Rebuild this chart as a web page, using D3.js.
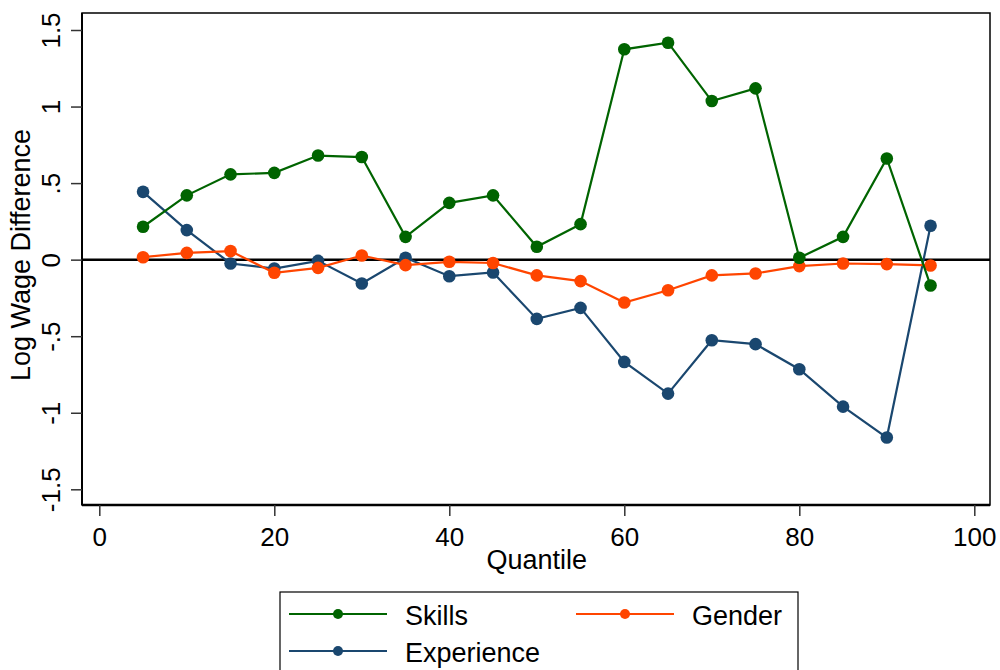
<!DOCTYPE html>
<html>
<head>
<meta charset="utf-8">
<script src="https://cdn.jsdelivr.net/npm/d3@7"></script>
<style>
  html, body { margin: 0; padding: 0; background: #fff; }
  svg { display: block; font-family: "Liberation Sans", Arial, sans-serif; }
</style>
</head>
<body>
<svg id="chart" width="1000" height="670"></svg>
<script>
// Quantiles at which the decomposition was estimated
const quantiles = [5, 10, 15, 20, 25, 30, 35, 40, 45, 50, 55, 60, 65, 70, 75, 80, 85, 90, 95];

// Contribution of each component to the log wage difference
const skills     = [0.215, 0.42, 0.557, 0.567, 0.68, 0.67, 0.149, 0.371, 0.42, 0.084, 0.232, 1.374, 1.417, 1.036, 1.119, 0.012, 0.149, 0.661, -0.169];
const gender     = [0.016, 0.044, 0.056, -0.086, -0.054, 0.027, -0.036, -0.014, -0.022, -0.103, -0.14, -0.28, -0.2, -0.103, -0.09, -0.042, -0.025, -0.029, -0.038];
const experience = [0.443, 0.193, -0.025, -0.058, -0.008, -0.156, 0.012, -0.108, -0.084, -0.387, -0.315, -0.668, -0.875, -0.526, -0.552, -0.716, -0.96, -1.162, 0.221];

const xTicks = [0, 20, 40, 60, 80, 100];
const yTicks = [-1.5, -1, -0.5, 0, 0.5, 1, 1.5];

const seriesNames  = ["Skills", "Gender", "Experience"];
const seriesColors = ["#006400", "#ff4500", "#1a476f"];

const series = [
  { name: seriesNames[0], color: seriesColors[0], values: skills },
  { name: seriesNames[1], color: seriesColors[1], values: gender },
  { name: seriesNames[2], color: seriesColors[2], values: experience }
];

const svg = d3.select("#chart");
const frame = { left: 82, right: 990, top: 13, bottom: 505 };
const TICK_FONT = 26;
const FONT = 27;

const x = d3.scaleLinear().domain([0, 100]).range([99.3, 974.3]);
const y = d3.scaleLinear().domain([-1.5, 1.5]).range([489.3, 30]);

// Stata-style tick labels: drop the leading zero (".5", "-.5")
const fmt = v => (v === 0 ? "0" : String(v).replace(/^(-?)0\./, "$1."));

// plot region frame
svg.append("rect")
  .attr("x", frame.left).attr("y", frame.top)
  .attr("width", frame.right - frame.left).attr("height", frame.bottom - frame.top)
  .attr("fill", "#fff").attr("stroke", "#000").attr("stroke-width", 1.5);

// y axis
const yAxis = svg.append("g")
  .attr("transform", `translate(${frame.left},0)`)
  .call(d3.axisLeft(y).tickValues(yTicks).tickFormat(fmt).tickSize(11).tickSizeOuter(0));
yAxis.select(".domain").attr("stroke", "#000").attr("stroke-width", 2).attr("d", `M0,${frame.top}V${frame.bottom}`);
yAxis.selectAll(".tick line").attr("stroke", "#333").attr("stroke-width", 1.5);
yAxis.selectAll(".tick text")
  .attr("transform", "rotate(-90)")
  .attr("x", 0).attr("y", -22).attr("dy", 0)
  .attr("text-anchor", "middle")
  .attr("font-size", TICK_FONT).attr("fill", "#000")
  .attr("font-family", "Liberation Sans, Arial, sans-serif");

// x axis
const xAxis = svg.append("g")
  .attr("transform", `translate(0,${frame.bottom})`)
  .call(d3.axisBottom(x).tickValues(xTicks).tickFormat(fmt).tickSize(11).tickSizeOuter(0));
xAxis.select(".domain").attr("stroke", "#000").attr("stroke-width", 2.5).attr("d", `M${frame.left},0H${frame.right}`);
xAxis.selectAll(".tick line").attr("stroke", "#333").attr("stroke-width", 1.5);
xAxis.selectAll(".tick text")
  .attr("y", 41).attr("dy", 0)
  .attr("font-size", TICK_FONT).attr("fill", "#000")
  .attr("font-family", "Liberation Sans, Arial, sans-serif");

// axis titles
svg.append("text")
  .attr("transform", "translate(30,255) rotate(-90)")
  .attr("text-anchor", "middle")
  .attr("font-size", FONT)
  .text("Log Wage Difference");

svg.append("text")
  .attr("x", x(50)).attr("y", 569)
  .attr("text-anchor", "middle")
  .attr("font-size", FONT)
  .text("Quantile");

// zero reference line
svg.append("line")
  .attr("x1", frame.left).attr("x2", frame.right)
  .attr("y1", y(0)).attr("y2", y(0))
  .attr("stroke", "#000").attr("stroke-width", 2.5);

// series: connected lines with filled circle markers
const line = d3.line().x((d, i) => x(quantiles[i])).y(d => y(d));
const drawOrder = [series[2], series[1], series[0]];
drawOrder.forEach(s => {
  const g = svg.append("g");
  g.append("path")
    .datum(s.values)
    .attr("d", line)
    .attr("fill", "none")
    .attr("stroke", s.color)
    .attr("stroke-width", 2.2);
  g.selectAll("circle")
    .data(s.values)
    .join("circle")
    .attr("cx", (d, i) => x(quantiles[i]))
    .attr("cy", d => y(d))
    .attr("r", 6.3)
    .attr("fill", s.color);
});

// legend
const legend = svg.append("g");
legend.append("rect")
  .attr("x", 280).attr("y", 592)
  .attr("width", 518).attr("height", 100)
  .attr("fill", "#fff").attr("stroke", "#000").attr("stroke-width", 1.2);

const legendItems = [
  { s: series[0], lx: 289, ty: 614 },
  { s: series[1], lx: 576, ty: 614 },
  { s: series[2], lx: 289, ty: 651 }
];
legendItems.forEach(it => {
  legend.append("line")
    .attr("x1", it.lx).attr("x2", it.lx + 98)
    .attr("y1", it.ty).attr("y2", it.ty)
    .attr("stroke", it.s.color).attr("stroke-width", 2.2);
  legend.append("circle")
    .attr("cx", it.lx + 49).attr("cy", it.ty).attr("r", 5)
    .attr("fill", it.s.color);
  legend.append("text")
    .attr("x", it.lx + 116).attr("y", it.ty + 11)
    .attr("font-size", FONT)
    .text(it.s.name);
});
</script>
</body>
</html>
